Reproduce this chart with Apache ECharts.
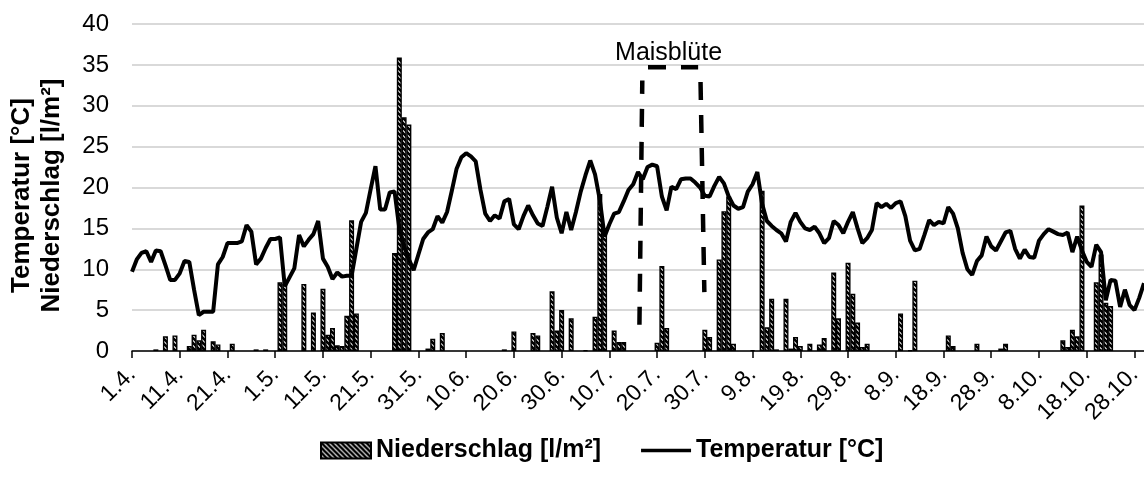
<!DOCTYPE html>
<html>
<head>
<meta charset="utf-8">
<script src="https://cdn.jsdelivr.net/npm/echarts@6/dist/echarts.min.js"></script>
<style>
  html, body { margin: 0; padding: 0; background: #fff; }
  #chartDiv { width: 1144px; height: 478px; }
</style>
</head>
<body>
<div id="chartDiv"></div>
<script>
// days 1.4. .. 30.10.
const MONTHS = [[4, 30], [5, 31], [6, 30], [7, 31], [8, 31], [9, 30], [10, 30]];
const categories = [];
MONTHS.forEach(([m, n]) => {
  for (let d = 1; d <= n; d++) categories.push(d + '.' + m + '.');
});

// Temperatur [°C], one value per day
const temperatur = [
  9.7, 11.2, 12.0, 12.2, 10.9, 12.3, 12.2, 10.5, 8.7, 8.7,
  9.5, 11.0, 10.9, 7.5, 4.4, 4.8, 4.8, 4.8, 10.6, 11.5,
  13.2, 13.2, 13.2, 13.4, 15.4, 14.6, 10.6, 11.3, 12.6, 13.7,
  13.7, 13.9, 7.9, 9.0, 10.1, 14.2, 12.8, 13.6, 14.3, 15.9,
  11.3, 10.3, 8.8, 9.6, 9.1, 9.2, 9.2, 12.5, 15.8, 16.9,
  19.8, 22.6, 17.3, 17.3, 19.4, 19.5, 15.0, 12.8, 11.2, 9.9,
  11.8, 13.7, 14.5, 14.9, 16.5, 15.7, 17.0, 19.6, 22.3, 23.7,
  24.2, 23.8, 23.2, 19.7, 16.8, 15.9, 16.6, 16.2, 18.3, 18.6,
  15.5, 14.9, 16.5, 17.8, 16.6, 15.6, 15.3, 17.6, 20.1, 16.3,
  14.4, 17.0, 14.8, 17.0, 19.5, 21.5, 23.3, 21.6, 18.5, 14.0,
  15.5, 16.8, 17.0, 18.3, 19.7, 20.4, 21.9, 21.0, 22.5, 22.8,
  22.6, 18.9, 17.2, 20.1, 19.8, 21.0, 21.1, 21.1, 20.6, 20.0,
  19.0, 18.9, 20.2, 21.3, 20.5, 18.9, 17.8, 17.4, 17.6, 19.5,
  20.4, 21.9, 18.0, 15.9, 15.3, 14.8, 14.4, 13.4, 15.8, 16.9,
  15.8, 15.0, 14.8, 15.2, 14.4, 13.2, 13.8, 15.9, 15.4, 14.4,
  15.8, 17.0, 15.0, 13.2, 13.8, 14.8, 18.1, 17.6, 18.0, 17.5,
  18.1, 18.3, 16.5, 13.5, 12.3, 12.5, 14.2, 16.0, 15.4, 15.8,
  15.6, 17.6, 16.8, 15.0, 12.0, 10.0, 9.3, 11.0, 11.7, 14.0,
  12.8, 12.3, 13.4, 14.5, 14.7, 12.5, 11.3, 12.4, 11.5, 11.4,
  13.5, 14.3, 14.9, 14.6, 14.3, 14.2, 14.5, 12.1, 14.0, 12.3,
  10.9, 10.3, 13.0, 12.1, 6.2, 8.7, 8.6, 5.4, 7.5, 5.6,
  5.0, 6.5, 8.3
];

// Niederschlag [l/m²], one value per day
const niederschlag = [
  0, 0, 0, 0, 0, 0.2, 0, 1.8, 0, 1.9,
  0, 0, 0.6, 2.0, 1.3, 2.6, 0, 1.2, 0.8, 0,
  0, 0.9, 0, 0, 0, 0, 0.2, 0, 0.2, 0,
  0, 8.4, 8.2, 0, 0, 0, 8.2, 0, 4.7, 0,
  7.6, 2.0, 2.8, 0.7, 0.6, 4.3, 16.0, 4.6, 0, 0,
  0, 0, 0, 0, 0, 12.0, 35.9, 28.6, 27.7, 0,
  0, 0, 0.3, 1.5, 0, 2.2, 0, 0, 0, 0,
  0, 0, 0, 0, 0, 0, 0, 0, 0.2, 0,
  2.4, 0, 0, 0, 2.2, 1.9, 0, 0, 7.3, 2.5,
  5.0, 0, 4.0, 0, 0, 0.1, 0, 4.2, 19.2, 15.0,
  0, 2.5, 1.1, 1.1, 0, 0, 0, 0, 0, 0,
  1.0, 10.4, 2.8, 0, 0, 0, 0, 0, 0, 0,
  2.6, 1.7, 0, 11.2, 17.1, 18.9, 0.9, 0, 0, 0,
  0.1, 0, 19.6, 2.9, 6.4, 0.2, 0, 6.4, 0.3, 1.7,
  0.6, 0, 0.9, 0, 0.8, 1.6, 0, 9.6, 4.0, 0,
  10.8, 7.0, 3.5, 0.5, 0.9, 0, 0, 0, 0, 0,
  0, 4.6, 0, 0.1, 8.6, 0, 0, 0, 0, 0,
  0, 1.9, 0.6, 0, 0, 0, 0, 0.9, 0, 0,
  0, 0, 0.3, 0.9, 0, 0, 0, 0, 0, 0,
  0, 0, 0, 0, 0, 1.3, 0.5, 2.6, 1.8, 17.8,
  0, 0, 8.4, 11.8, 5.9, 5.5, 0, 0, 0, 0,
  0, 0, 0
];

// Maisblüte bracket, [day index, value]; '-' breaks the dashed outline
const maisbluete = [
  [106.3, 3.2], [106.9, 33.1], '-',
  [108.1, 34.7], [118.6, 34.7], '-',
  [119.1, 32.9], [119.9, 7.2]
];
const maisblueteLabel = [[112.4, 36.4]];

const FONT = 'Arial, "Liberation Sans", sans-serif';

function hatchPattern() {
  const c = document.createElement('canvas');
  c.width = 5;
  c.height = 5;
  const ctx = c.getContext('2d');
  ctx.fillStyle = '#fff';
  ctx.fillRect(0, 0, 5, 5);
  ctx.strokeStyle = '#000';
  ctx.lineWidth = 2.6;
  ctx.beginPath();
  ctx.moveTo(-3, -3); ctx.lineTo(8, 8);
  ctx.moveTo(-3, 2); ctx.lineTo(3, 8);
  ctx.moveTo(2, -3); ctx.lineTo(8, 3);
  ctx.stroke();
  return c;
}

const chart = echarts.init(document.getElementById('chartDiv'));

const option = {
  animation: false,
  textStyle: { fontFamily: FONT, color: '#000' },
  grid: { left: 132, right: 0, top: 24, bottom: 127, containLabel: false, outerBoundsMode: 'none' },
  legend: {
    data: [
      { name: 'Niederschlag [l/m²]', icon: 'rect' },
      { name: 'Temperatur [°C]', icon: 'path://M0,0 H54 V4 H0 Z' }
    ],
    left: 315,
    top: 433,
    itemWidth: 50,
    itemHeight: 16,
    itemGap: 40,
    symbolKeepAspect: true,
    textStyle: { fontSize: 25, fontWeight: 'bold', color: '#000', fontFamily: FONT }
  },
  xAxis: [
    {
      type: 'category',
      data: categories,
      boundaryGap: false,
      axisLine: { lineStyle: { color: '#000', width: 1.5 } },
      axisTick: { interval: 9, length: 7, lineStyle: { color: '#000', width: 1.5 } },
      axisLabel: { interval: 9, rotate: 45, fontSize: 23, margin: 20, color: '#000', fontFamily: FONT },
      splitLine: { show: false }
    },
    { type: 'value', min: 0, max: 212, show: false }
  ],
  yAxis: {
    type: 'value',
    min: 0,
    max: 40,
    interval: 5,
    axisLine: { show: false },
    axisTick: { show: false },
    axisLabel: { fontSize: 24, margin: 23, color: '#000', fontFamily: FONT },
    splitLine: { lineStyle: { color: '#d9d9d9', width: 2 } },
    name: 'Temperatur [°C]\nNiederschlag [l/m²]',
    nameLocation: 'middle',
    nameRotate: 90,
    nameGap: 65,
    nameTextStyle: { fontSize: 26, fontWeight: 'bold', lineHeight: 30, color: '#000', fontFamily: FONT, padding: [0, 16, 0, 0] }
  },
  series: [
    {
      name: 'Niederschlag [l/m²]',
      type: 'bar',
      data: niederschlag.map(v => (v === 0 ? '-' : v)),
      barWidth: 5,
      itemStyle: { color: { image: hatchPattern(), repeat: 'repeat' }, borderColor: '#000', borderWidth: 1.4 },
      z: 2
    },
    {
      name: 'Temperatur [°C]',
      type: 'line',
      data: temperatur,
      symbol: 'none',
      lineStyle: { color: '#000', width: 4 },
      itemStyle: { color: '#000' },
      z: 3
    },
    {
      name: 'Maisblüte',
      type: 'line',
      xAxisIndex: 1,
      data: maisbluete,
      symbol: 'none',
      silent: true,
      connectNulls: false,
      lineStyle: { color: '#000', width: 4.5, type: [18, 15] },
      z: 4
    },
    {
      name: 'MaisblüteText',
      type: 'scatter',
      xAxisIndex: 1,
      data: maisblueteLabel,
      symbolSize: 1,
      silent: true,
      itemStyle: { color: '#fff' },
      label: {
        show: true, position: 'inside', formatter: 'Maisblüte', fontSize: 25,
        color: '#000', textBorderWidth: 0, opacity: 1, fontFamily: FONT
      },
      z: 5
    }
  ]
};

chart.setOption(option);
</script>
</body>
</html>
